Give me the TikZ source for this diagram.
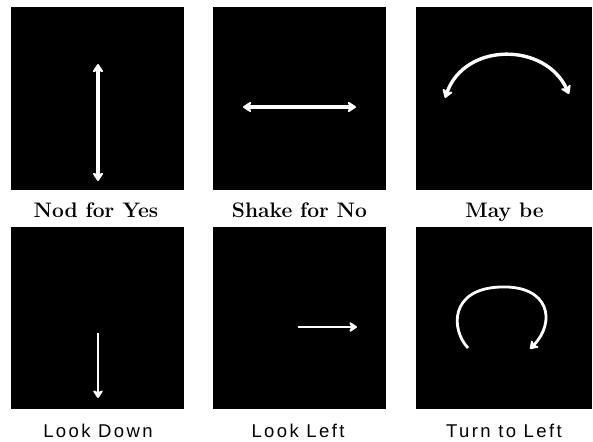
\documentclass[tikz,border=0pt]{standalone}
\usepackage{fontspec}
\usepackage{tikz}
\usetikzlibrary{arrows.meta, positioning, calc}
\newfontfamily\gesturesans[LetterSpace=13]{Liberation Sans}
\definecolor{mydark}{RGB}{0,0,0}
\tikzset{
  panel/.style={rectangle, fill=mydark, draw=none, inner sep=0pt,
    minimum width=173pt, minimum height=182pt},
  toplabel/.style={anchor=base, inner sep=0pt, font=\fontsize{21}{24}\selectfont\bfseries},
  botlabel/.style={anchor=base, inner sep=0pt, font=\fontsize{18.5}{22}\selectfont\gesturesans},
  bigarrow/.style={{Stealth[round, length=10pt, width=13pt, inset=3pt]}-{Stealth[round, length=10pt, width=13pt, inset=3pt]},
    draw=white, line width=3.4pt, line cap=round},
  smallarrow/.style={-{Stealth[round, length=9pt, width=12pt, inset=2.5pt]}, draw=white, line width=2.8pt}
}

\begin{document}
\begin{tikzpicture}[x=1pt, y=-1pt]
  \useasboundingbox (0,0) rectangle (593,441);

  \node[panel] (nod) at (97.5,98.5) {};
  \node[panel] (shake) at (299.5,98.5) {};
  \node[panel, minimum width=176pt] (maybe) at (504,98.5) {};
  \node[panel] (down) at (97.5,317.5) {};
  \node[panel] (left) at (299.5,317.5) {};
  \node[panel, minimum width=176pt] (turn) at (504,317.5) {};

  \node[toplabel] (nodtxt) at (96,217) {Nod for Yes};
  \node[toplabel] (shaketxt) at (299.5,217) {Shake for No};
  \node[toplabel] (maybetxt) at (504.5,217) {May be};
  \node[botlabel] (downtxt) at (98,437) {Look Down};
  \node[botlabel] (lefttxt) at (298,437) {Look Left};
  \node[botlabel] (turntxt) at (504,437) {Turn to Left};

  \draw[bigarrow] (98,181) -- (98,64);
  \draw[bigarrow] (243,107) -- (356,107);
  \draw[bigarrow] (445,98) .. controls (465,42) and (545,42) .. (569,94);

  \draw[smallarrow] (98,333) -- (98,398);
  \draw[smallarrow] (298,327) -- (357,327);
  \draw[smallarrow] (468,348) .. controls (451,330) and (449,289) .. (500,287)
    .. controls (550,285) and (556,322) .. (530,349);
\end{tikzpicture}
\end{document}
